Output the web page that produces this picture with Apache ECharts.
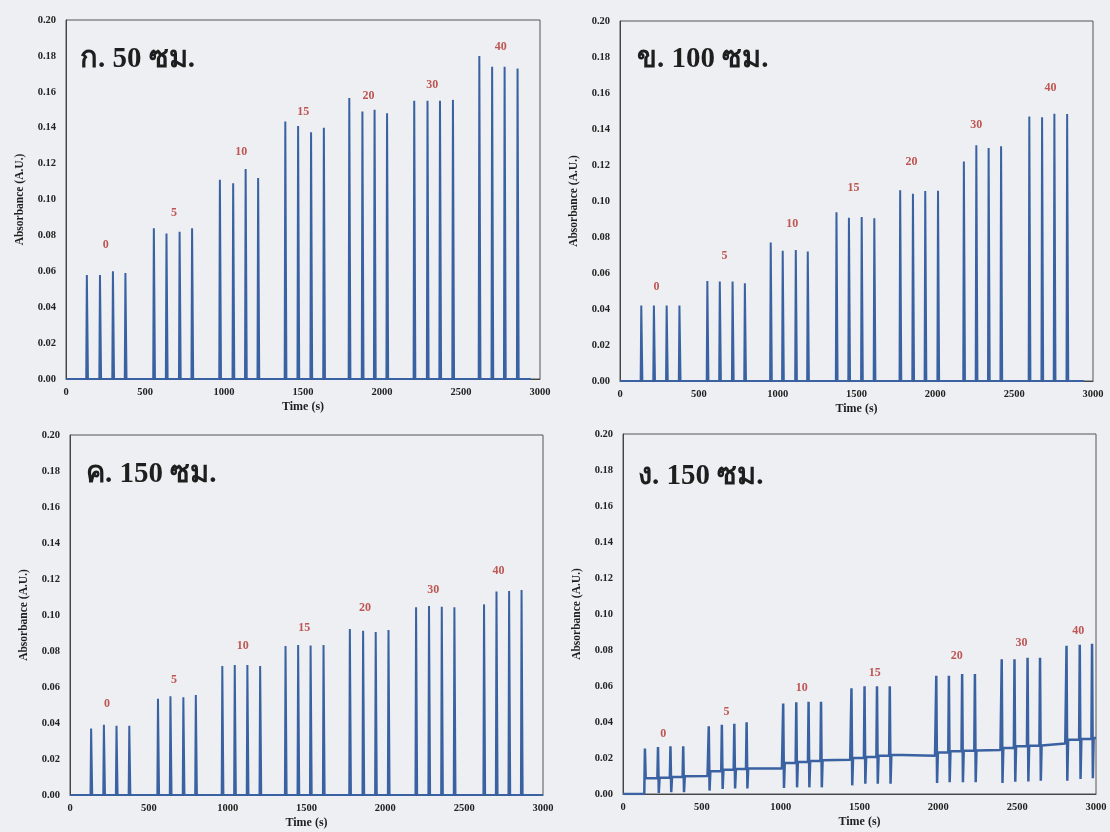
<!DOCTYPE html>
<html>
<head>
<meta charset="utf-8">
<script src="https://cdn.jsdelivr.net/npm/echarts@6/dist/echarts.min.js"></script>
<style>
html,body{margin:0;padding:0;background:#edeff2;}
#c{width:1110px;height:832px;}
</style>
</head>
<body>
<div id="c"></div>
<script>
// ---------- data ----------
const panelTitles = ['ก. 50 ซม.', 'ข. 100 ซม.', 'ค. 150 ซม.', 'ง. 150 ซม.'];
const concLabels = ['0', '5', '10', '15', '20', '30', '40'];

// Panel ก : peak times (s) and peak heights (A.U.)
const timesA = [[132,215,297,376],[556,636,719,798],[974,1058,1137,1216],[1388,1469,1551,1632],[1793,1876,1953,2032],[2204,2288,2367,2449],[2616,2697,2776,2858]];
const heightsA = [[0.058,0.058,0.060,0.059],[0.084,0.081,0.082,0.084],[0.111,0.109,0.117,0.112],[0.1435,0.141,0.1375,0.140],[0.1565,0.149,0.150,0.148],[0.155,0.155,0.155,0.1555],[0.180,0.174,0.174,0.173]];
const labelXA = [251,683,1109,1502,1915,2318,2751];
const labelYA = [0.0747,0.0923,0.1263,0.1486,0.1577,0.164,0.185];
const traceEndA = 2943;

// Panel ข
const timesB = [[135,215,296,377],[554,633,714,792],[956,1032,1115,1191],[1373,1452,1533,1613],[1777,1858,1936,2017],[2181,2260,2338,2417],[2596,2677,2755,2836]];
const heightsB = [[0.042,0.042,0.042,0.042],[0.0555,0.0553,0.0553,0.0543],[0.077,0.0724,0.0728,0.0719],[0.0937,0.0907,0.0911,0.0904],[0.106,0.104,0.1056,0.1057],[0.122,0.131,0.1294,0.1304],[0.147,0.1465,0.1485,0.1483]];
const labelXB = [231,662,1093,1481,1849,2260,2731];
const labelYB = [0.0524,0.0694,0.087,0.1074,0.1215,0.142,0.1626];
const traceEndB = 2944;

// Panel ค
const timesC = [[134,215,295,376],[558,637,719,798],[966,1045,1125,1206],[1367,1447,1526,1608],[1775,1859,1939,2020],[2195,2277,2358,2438],[2626,2705,2785,2864]];
const heightsC = [[0.037,0.039,0.0385,0.0385],[0.0535,0.0548,0.0543,0.0556],[0.0717,0.0722,0.0722,0.0717],[0.0828,0.0833,0.0831,0.0833],[0.0922,0.0913,0.0906,0.0917],[0.1043,0.105,0.1046,0.1043],[0.1059,0.113,0.1133,0.1139]];
const labelXC = [234,660,1095,1485,1871,2304,2717];
const labelYC = [0.0506,0.0639,0.0828,0.0931,0.1037,0.1137,0.1244];
const traceEndC = 3000;

// Panel ง : spikes with tops, dips below baseline, and a rising baseline
const timesD = [[139,222,301,382],[544,627,706,784],[1016,1099,1177,1256],[1449,1532,1611,1692],[1987,2067,2151,2232],[2402,2483,2566,2645],[2813,2897,2975]];
const topsD = [[0.0252,0.0261,0.0265,0.0265],[0.0376,0.0385,0.039,0.0398],[0.0503,0.0509,0.0512,0.0512],[0.0587,0.0598,0.0598,0.0598],[0.0657,0.0657,0.0666,0.0666],[0.0749,0.0749,0.0757,0.0757],[0.0823,0.0829,0.0834]];
const dipsD = [[0.0087,0.0006,0.001,0.001],[0.0019,0.0028,0.0031,0.0031],[0.0033,0.0037,0.0037,0.0037],[0.0048,0.0057,0.0057,0.0057],[0.0061,0.0065,0.0065,0.0065],[0.0061,0.0068,0.007,0.0074],[0.0074,0.0083,0.0087]];
const baseAfterD = [[0.0087,0.009,0.0095,0.0098],[0.0126,0.0135,0.0139,0.0141],[0.0172,0.0178,0.0183,0.0188],[0.020,0.0205,0.0213,0.0218],[0.0231,0.0237,0.024,0.0242],[0.0255,0.0265,0.0268,0.027],[0.0302,0.0305,0.0311]];
const baseBeforeD = [0, 0.0100, 0.0142, 0.0190, 0.0213, 0.0245, 0.0280];
const labelXD = [256,656,1133,1596,2117,2528,2888];
const labelYD = [0.0333,0.0457,0.0592,0.0673,0.0768,0.0838,0.0907];
const traceEndD = 3000;
const traceEndValueD = 0.0311;

// ---------- build traces from the arrays ----------
function peakTrace(times, heights, end) {
  const pts = [[0, 0]];
  times.forEach((grp, g) => grp.forEach((t, i) => {
    pts.push([t - 4, 0], [t, heights[g][i]], [t + 7, 0]);
  }));
  pts.push([end, 0]);
  return pts;
}
function spikeTrace() {
  const pts = [[0, 0]];
  timesD.forEach((grp, g) => {
    let base = baseBeforeD[g];
    grp.forEach((t, i) => {
      pts.push([t - 4, base], [t, topsD[g][i]], [t + 5, dipsD[g][i]], [t + 10, baseAfterD[g][i]]);
      base = baseAfterD[g][i];
    });
    if (g + 1 < timesD.length) pts.push([timesD[g + 1][0] - 8, baseBeforeD[g + 1]]);
  });
  pts.push([traceEndD, traceEndValueD]);
  return pts;
}
function labelData(xs, ys) {
  return xs.map((x, i) => [x, ys[i], concLabels[i]]);
}

const traces = [
  peakTrace(timesA, heightsA, traceEndA),
  peakTrace(timesB, heightsB, traceEndB),
  peakTrace(timesC, heightsC, traceEndC),
  spikeTrace()
];
const labels = [
  labelData(labelXA, labelYA),
  labelData(labelXB, labelYB),
  labelData(labelXC, labelYC),
  labelData(labelXD, labelYD)
];

// ---------- layout ----------
const FONT = "'Liberation Serif', 'Times New Roman', serif";
const grids = [
  {left: 66, top: 20, width: 474, height: 359},
  {left: 620, top: 21, width: 473, height: 360},
  {left: 70, top: 435, width: 473, height: 360},
  {left: 623, top: 434, width: 473, height: 360}
];
const titlePos = [[80, 45], [637, 45], [86, 460], [638, 462]];
const lineWidths = [2, 2, 2, 2.5];

const option = {
  backgroundColor: '#edeff2',
  animation: false,
  title: panelTitles.map((t, i) => ({
    text: t, left: titlePos[i][0], top: titlePos[i][1], padding: 0,
    textStyle: {fontFamily: FONT, fontWeight: 'bold', fontSize: 29, color: '#1e1e1e'}
  })),
  grid: grids.map(g => Object.assign({show: true, borderColor: '#555', borderWidth: 1, backgroundColor: 'transparent'}, g)),
  xAxis: grids.map((g, i) => ({
    type: 'value', gridIndex: i, min: 0, max: 3000, interval: 500,
    name: 'Time (s)', nameLocation: 'middle', nameGap: 22,
    nameTextStyle: {fontFamily: FONT, fontWeight: 'bold', fontSize: 12, color: '#1e1e1e'},
    axisLine: {show: true, lineStyle: {color: '#444', width: 1}},
    axisTick: {show: false},
    splitLine: {show: false},
    axisLabel: {fontFamily: FONT, fontWeight: 'bold', fontSize: 10.5, color: '#222', margin: 8,
      formatter: v => String(v)}
  })),
  yAxis: grids.map((g, i) => ({
    type: 'value', gridIndex: i, min: 0, max: 0.2, interval: 0.02,
    name: 'Absorbance (A.U.)', nameLocation: 'middle', nameGap: 40,
    nameTextStyle: {fontFamily: FONT, fontWeight: 'bold', fontSize: 11.5, color: '#1e1e1e'},
    axisLine: {show: true, lineStyle: {color: '#444', width: 1}},
    axisTick: {show: false},
    splitLine: {show: false},
    axisLabel: {fontFamily: FONT, fontWeight: 'bold', fontSize: 10.5, color: '#222', margin: 10,
      formatter: v => v.toFixed(2)}
  })),
  series: [].concat(
    traces.map((d, i) => ({
      type: 'line', xAxisIndex: i, yAxisIndex: i, data: d,
      showSymbol: false, symbol: 'none',
      lineStyle: {color: '#3a62a2', width: lineWidths[i]},
      silent: true
    })),
    labels.map((d, i) => ({
      type: 'scatter', xAxisIndex: i, yAxisIndex: i, data: d,
      symbolSize: 1, itemStyle: {color: 'rgba(0,0,0,0)'},
      label: {show: true, position: 'inside', formatter: p => p.data[2],
        fontFamily: FONT, fontWeight: 'bold', fontSize: 12, color: '#b3302a'},
      silent: true
    }))
  )
};
echarts.init(document.getElementById('c'), null, {renderer: 'canvas'}).setOption(option);
</script>
</body>
</html>
